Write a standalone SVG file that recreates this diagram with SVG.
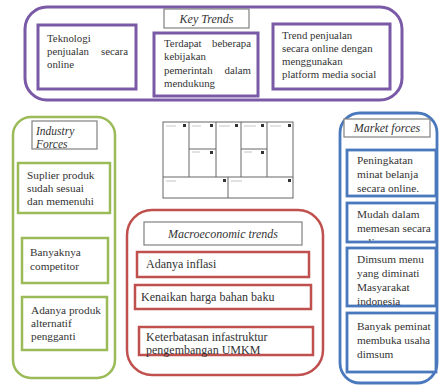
<svg xmlns="http://www.w3.org/2000/svg" width="439" height="385" viewBox="0 0 439 385" font-family="'Liberation Serif', 'Times New Roman', 'DejaVu Serif', serif">
<style>
text{font-family:'Liberation Serif','Times New Roman','DejaVu Serif',serif;fill:#333}
.lbl{fill:#fff;stroke:#808080;stroke-width:1.2}
.it{font-style:italic;text-anchor:middle}
.pu{fill:#fff;stroke:#7a5aa6;stroke-width:3}
.gr{fill:#fff;stroke:#9bbb59;stroke-width:2.5}
.rd{fill:#fff;stroke:#c0504d;stroke-width:2.5}
.bl{fill:#fff;stroke:#4a78bd;stroke-width:2.8}
.kt{font-size:10.8px}
.gt{font-size:11.3px}
.mt{font-size:12px}
.bt{font-size:11.3px}
.cv{fill:none;stroke:#666;stroke-width:1}
.ic{fill:#333}
.tl{stroke:#c4c4c4;stroke-width:1}
</style>
<defs>
<clipPath id="cIF"><rect x="32" y="121" width="65" height="27"/></clipPath>
<clipPath id="cKT3"><rect x="273" y="24" width="117" height="63"/></clipPath>
<clipPath id="cB1"><rect x="347" y="150" width="89" height="45"/></clipPath>
<clipPath id="cB2"><rect x="347" y="203" width="89" height="38"/></clipPath>
<clipPath id="cB3"><rect x="347" y="248" width="89" height="57"/></clipPath>
</defs>

<g id="key-trends">
<rect class="pu" x="25" y="7" width="377" height="93" rx="22"/>
<rect class="lbl" x="164" y="9" width="85" height="19"/>
<text class="it" x="206.5" y="23" font-size="12">Key Trends</text>
</g>
<g id="kt-teknologi">
<rect class="pu" x="38" y="25" width="98" height="64"/>
<text class="kt" x="47" y="42">Teknologi</text>
<text class="kt" x="47" y="55">penjualan</text>
<text class="kt" x="128" y="55" text-anchor="end">secara</text>
<text class="kt" x="47" y="68">online</text>
</g>
<g id="kt-kebijakan">
<rect class="pu" x="154" y="33" width="104" height="63"/>
<text class="kt" x="164" y="47">Terdapat</text>
<text class="kt" x="251" y="47" text-anchor="end">beberapa</text>
<text class="kt" x="164" y="60">kebijakan</text>
<text class="kt" x="164" y="74">pemerintah</text>
<text class="kt" x="251" y="74" text-anchor="end">dalam</text>
<text class="kt" x="164" y="87">mendukung</text>
</g>
<g id="kt-trend">
<rect class="pu" x="273" y="24" width="117" height="65"/>
<g clip-path="url(#cKT3)">
<text class="kt" x="282" y="39">Trend penjualan</text>
<text class="kt" x="282" y="52">secara online dengan</text>
<text class="kt" x="282" y="65">menggunakan</text>
<text class="kt" x="282" y="78">platform media social</text>
</g>
</g>

<g id="industry-forces">
<rect class="gr" x="13" y="117" width="102" height="261" rx="18"/>
<rect class="lbl" x="32" y="121" width="65" height="28"/>
<g clip-path="url(#cIF)">
<text x="36" y="135" font-size="11.5" font-style="italic">Industry</text>
<text x="36" y="148" font-size="11.5" font-style="italic">Forces</text>
</g>
</g>
<g id="if-suplier">
<rect class="gr" x="18" y="163" width="92" height="50"/>
<text class="gt" x="27" y="179">Suplier produk</text>
<text class="gt" x="27" y="192">sudah sesuai</text>
<text class="gt" x="27" y="205">dan memenuhi</text>
</g>
<g id="if-competitor">
<rect class="gr" x="22" y="238" width="86" height="45"/>
<text class="gt" x="30" y="256">Banyaknya</text>
<text class="gt" x="30" y="270">competitor</text>
</g>
<g id="if-alternatif">
<rect class="gr" x="22" y="297" width="85" height="53"/>
<text class="gt" x="31" y="314">Adanya produk</text>
<text class="gt" x="31" y="327">alternatif</text>
<text class="gt" x="31" y="340">pengganti</text>
</g>

<g id="canvas">
<rect x="163" y="122" width="130" height="76" fill="#fff" stroke="#666" stroke-width="1"/>
<path class="cv" d="M189 122V177M216 122V177M241 122V177M267 122V177M163 177H293M228 177V198M189 149H216M241 149H267"/>
<path class="tl" d="M166 126H176M192 126H201M219 126H230M244 126H256M270 126H281M192 152H200M244 152H252M166 181H176M231 181H242"/>
<rect class="ic" x="183" y="124" width="3" height="3"/>
<rect class="ic" x="210" y="124" width="3" height="3"/>
<rect class="ic" x="235" y="124" width="3" height="3"/>
<rect class="ic" x="261" y="124" width="3" height="3"/>
<rect class="ic" x="288" y="124" width="3" height="3"/>
<rect class="ic" x="210" y="151" width="3" height="3"/>
<rect class="ic" x="261" y="151" width="3" height="3"/>
<rect class="ic" x="223" y="179" width="3" height="3"/>
<rect class="ic" x="288" y="179" width="3" height="3"/>
</g>

<g id="macroeconomic-trends">
<rect class="rd" x="127" y="210" width="196" height="165" rx="25"/>
<rect class="lbl" x="144" y="222" width="158" height="23"/>
<text class="it" x="223" y="238" font-size="12">Macroeconomic trends</text>
</g>
<g id="mt-inflasi">
<rect class="rd" x="137" y="252" width="172" height="25"/>
<text class="mt" x="146" y="268">Adanya inflasi</text>
</g>
<g id="mt-bahan-baku">
<rect class="rd" x="135" y="285" width="176" height="24"/>
<text class="mt" x="141" y="301">Kenaikan harga bahan baku</text>
</g>
<g id="mt-infrastruktur">
<rect class="rd" x="139" y="327" width="174" height="28"/>
<text class="mt" x="146" y="341">Keterbatasan infastruktur</text>
<text class="mt" x="146" y="354">pengembangan UMKM</text>
</g>

<g id="market-forces">
<rect class="bl" x="340" y="113" width="97" height="270" rx="20"/>
<rect class="lbl" x="344" y="119" width="86" height="18"/>
<text class="it" x="387" y="132" font-size="12">Market forces</text>
</g>
<g id="mf-minat">
<rect class="bl" x="347" y="150" width="89" height="46"/>
<g clip-path="url(#cB1)">
<text class="bt" x="357" y="164">Peningkatan</text>
<text class="bt" x="357" y="178">minat belanja</text>
<text class="bt" x="357" y="192">secara online.</text>
</g>
</g>
<g id="mf-mudah">
<rect class="bl" x="347" y="203" width="89" height="39"/>
<g clip-path="url(#cB2)">
<text class="bt" x="357" y="218">Mudah dalam</text>
<text class="bt" x="357" y="232">memesan secara</text>
<text class="bt" x="357" y="246">online</text>
</g>
</g>
<g id="mf-dimsum">
<rect class="bl" x="347" y="248" width="89" height="58"/>
<g clip-path="url(#cB3)">
<text class="bt" x="357" y="263">Dimsum menu</text>
<text class="bt" x="357" y="277">yang diminati</text>
<text class="bt" x="357" y="291">Masyarakat</text>
<text class="bt" x="357" y="305">indonesia</text>
</g>
</g>
<g id="mf-peminat">
<rect class="bl" x="347" y="313" width="89" height="59"/>
<text class="bt" x="357" y="330">Banyak peminat</text>
<text class="bt" x="357" y="344">membuka usaha</text>
<text class="bt" x="357" y="358">dimsum</text>
</g>
</svg>
